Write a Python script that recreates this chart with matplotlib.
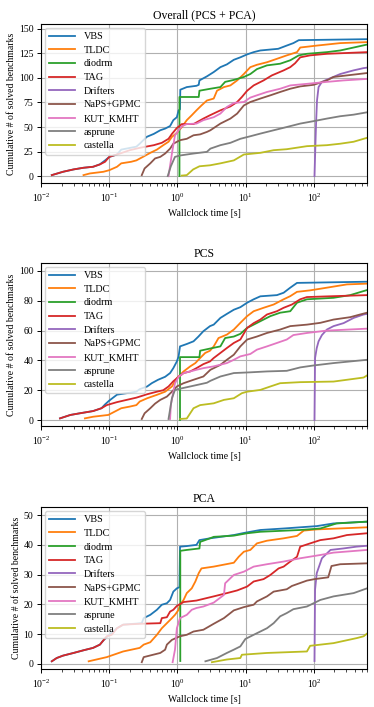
import matplotlib
matplotlib.use('Agg')
import matplotlib.pyplot as plt

plt.rcParams['font.family'] = ['Liberation Serif', 'DejaVu Serif']
plt.rcParams['mathtext.fontset'] = 'stix'
plt.rcParams['axes.linewidth'] = 0.8

solvers = ['VBS', 'TLDC', 'diodrm', 'TAG', 'Drifters', 'NaPS+GPMC', 'KUT_KMHT', 'asprune', 'castella']
colors = ['tab:blue', 'tab:orange', 'tab:green', 'tab:red', 'tab:purple',
          'tab:brown', 'tab:pink', 'tab:gray', 'tab:olive']

# ---- Overall (PCS + PCA): (time [s], cumulative # solved)
all_vbs = [(0.0144, 1), (0.021, 4.4), (0.03, 6.8), (0.042, 8.5), (0.058, 9.5), (0.073, 12), (0.087, 16),
           (0.1, 19.5), (0.13, 22), (0.15, 27), (0.25, 30), (0.28, 33), (0.355, 40), (0.45, 43), (0.56, 46.7),
           (0.66, 48.4), (0.78, 51), (0.87, 57), (0.98, 60), (1.04, 67), (1.09, 68), (1.1, 88), (1.37, 90.7),
           (1.9, 92), (2.05, 93), (2.1, 97.5), (2.7, 101.6), (3.4, 106), (4.26, 111), (5.3, 113.8), (6.7, 118.5),
           (8.35, 121), (10.5, 124), (13.1, 126.3), (16.4, 128), (30, 129.7), (40, 133), (50, 135.5),
           (60, 138.5), (600, 139.5)]
all_tldc = [(0.042, 1), (0.052, 2.7), (0.082, 4.4), (0.1, 6), (0.13, 9.5), (0.15, 13), (0.21, 14.6), (0.25, 16),
            (0.32, 20), (0.4, 23.7), (0.5, 27), (0.62, 31.5), (0.74, 35), (0.83, 40), (0.98, 44), (1.16, 50),
            (1.37, 57), (1.62, 62), (1.9, 67), (2.25, 72), (2.7, 77), (3.4, 79), (3.8, 87), (4.8, 90.7),
            (5.97, 92.4), (7.5, 97.5), (9.4, 104), (11.7, 111), (14.6, 113.4), (20.5, 116), (28.7, 119.5),
            (40, 123), (56.5, 126.3), (63, 131), (111, 133), (243, 135.5), (600, 136.5)]
all_diodrm = [(1.07, 0), (1.07, 80.6), (2.05, 80.6), (2.1, 87), (3.04, 89), (4.26, 90.7), (5.0, 96), (6.7, 98),
              (9.4, 101), (11.7, 104), (14.6, 109), (20.5, 112.8), (32, 114.5), (45, 118), (60, 123),
              (79, 124.6), (155, 126.3), (243, 128), (382, 131), (600, 134)]
all_tag = [(0.0144, 1), (0.021, 4.4), (0.03, 6.8), (0.042, 8.5), (0.058, 9.5), (0.073, 11.9), (0.087, 14.6),
           (0.1, 19.6), (0.144, 23), (0.2, 26.4), (0.28, 28.8), (0.45, 31.5), (0.59, 33.9), (0.74, 38),
           (0.83, 43), (0.98, 49), (1.16, 53), (1.72, 53), (2.4, 58.6), (3.0, 62), (4.26, 67), (5.97, 71),
           (7.5, 75.5), (8.8, 80.6), (10.5, 87), (13.1, 92.4), (18.3, 97.5), (24.2, 102.6), (36, 107.7),
           (45, 111), (53, 115), (63, 121), (88, 123), (155, 124.6), (600, 126.3)]
all_drifters = [(102, 0), (106, 40), (108, 57), (111, 77), (117, 90.7), (131, 96), (164, 99), (243, 104),
                (380, 107.7), (533, 110), (600, 110.5)]
all_naps = [(0.3, 1), (0.33, 7.8), (0.4, 13), (0.47, 18), (0.56, 19.6), (0.66, 23), (0.78, 28), (0.87, 33),
            (1.09, 36.6), (1.37, 38), (1.72, 41.6), (2.15, 42.5), (2.7, 45), (3.04, 46.7), (4.26, 53.5),
            (5.97, 58.6), (7.5, 63.7), (9.4, 72), (11.7, 75.5), (16.4, 79), (23, 82.3), (32, 85.7), (45, 89),
            (63, 91.4), (99, 93), (155, 97.5), (194, 101), (305, 102.6), (600, 105)]
all_kut = [(0.74, 0), (0.83, 23), (0.92, 41.6), (1.04, 46.7), (1.16, 50.8), (1.37, 53), (1.9, 53.5), (2.4, 57),
           (3.4, 60), (4.26, 63.7), (5.3, 70.4), (6.7, 74.5), (9.4, 75.5), (11.7, 80), (14.6, 82.3),
           (20.5, 85.7), (32, 89), (45, 92.4), (79, 94), (155, 96), (272, 97.5), (600, 99)]
all_asprune = [(0.72, 0), (0.8, 10), (0.92, 19.6), (1.09, 21), (1.72, 23), (2.7, 24.7), (3.04, 28), (4.26, 31.5),
               (5.97, 33.9), (8.35, 38), (11.7, 40.6), (16.4, 43.3), (25.7, 46.7), (40, 50), (63, 53.5),
               (99, 56), (155, 58.6), (243, 61), (382, 62.6), (600, 65)]
all_castella = [(1.15, 0.5), (1.37, 1), (1.7, 6.8), (2.1, 10), (3.0, 11), (4.26, 13), (6.7, 16), (9.4, 22),
                (16.4, 23.7), (25.7, 26.4), (40, 27.4), (79, 30.5), (155, 31.5), (243, 33), (382, 35),
                (535, 38), (600, 39)]

# ---- PCS
pcs_vbs = [(0.019, 1.1), (0.027, 3.4), (0.037, 4.5), (0.058, 6), (0.077, 7.9), (0.087, 10.5), (0.1, 13),
           (0.13, 17), (0.18, 18), (0.25, 19), (0.28, 20.7), (0.36, 22.5), (0.42, 24.7), (0.52, 27), (0.66, 29),
           (0.78, 31.5), (0.87, 34.8), (0.98, 39.3), (1.04, 42.7), (1.09, 49.4), (1.37, 51), (1.72, 52.8),
           (2.03, 56), (2.4, 59.6), (3.0, 63), (3.4, 64), (4.26, 68.5), (5.3, 71.2), (6.7, 74), (8.35, 75.7),
           (10.5, 78.7), (13.1, 81), (16.4, 83), (28.7, 83.8), (36, 85.4), (45, 88.8), (56.5, 92), (600, 92.8)]
pcs_tldc = [(0.044, 1.1), (0.058, 2.2), (0.097, 3.4), (0.12, 5.6), (0.15, 7.9), (0.2, 9), (0.25, 10),
            (0.28, 12.4), (0.36, 14.6), (0.5, 16.9), (0.66, 19), (0.83, 22.5), (0.98, 28), (1.23, 32.6),
            (1.54, 36), (1.83, 38.2), (2.15, 41.6), (2.55, 45), (3.0, 46.5), (3.4, 49.4), (4.0, 55), (5.3, 57.3),
            (6.7, 60.7), (8.35, 65.2), (10.5, 69.7), (13.1, 73), (18.3, 75.3), (25.7, 77.5), (36, 81),
            (45, 83.1), (56.5, 86), (88, 87), (155, 88.8), (305, 91), (600, 91.5)]
pcs_diodrm = [(1.09, 0), (1.09, 42.2), (2.1, 42.2), (2.15, 46.5), (3.04, 48), (4.26, 49.4), (5.0, 55), (6.7, 56),
              (8.35, 57.8), (10.5, 61.8), (13.1, 64), (16.4, 66.3), (23, 69.7), (32, 72), (45, 73),
              (56.5, 78.7), (79, 81), (194, 82), (340, 83.8), (600, 87.2)]
pcs_tag = [(0.019, 1.1), (0.027, 3.4), (0.037, 4.5), (0.058, 6), (0.077, 7.9), (0.092, 10), (0.13, 12),
           (0.18, 13.5), (0.25, 15), (0.36, 17.3), (0.5, 19), (0.62, 20), (0.74, 22.5), (0.87, 26), (1.04, 29),
           (1.23, 31.5), (1.54, 32.6), (1.9, 34.8), (2.4, 37.5), (3.0, 39.3), (3.4, 41.6), (4.26, 45),
           (5.3, 48.3), (6.7, 51.7), (8.35, 54), (10.5, 61.8), (13.1, 65), (16.4, 67.4), (20.5, 70.8),
           (28.7, 73), (36, 75.3), (47.6, 77.5), (63, 81), (79, 82.5), (194, 83.1), (600, 83.8)]
pcs_drifters = [(102, 0), (104, 41.6), (110, 48.3), (117, 52.8), (131, 57), (155, 60.7), (194, 63), (272, 65),
                (382, 68.5), (535, 70.8), (600, 71.2)]
pcs_naps = [(0.3, 0.7), (0.33, 4.5), (0.4, 7.9), (0.47, 11), (0.56, 13.5), (0.7, 15.7), (0.83, 19),
            (0.98, 22.5), (1.23, 24.7), (1.72, 27), (2.4, 29.2), (3.04, 33.7), (4.26, 37), (5.3, 40.4),
            (6.7, 43.8), (8.35, 49.4), (10.5, 54), (14.6, 56), (20.5, 58.4), (32, 60.7), (45, 63), (79, 64),
            (124, 65.2), (194, 67.4), (340, 69), (475, 70.8), (600, 72)]
pcs_kut = [(0.78, 0.7), (0.8, 10), (0.92, 24.7), (1.04, 29), (1.23, 31.5), (1.54, 32.6), (1.9, 33.7),
           (2.4, 34.8), (3.4, 36), (5.3, 38.2), (6.7, 40.4), (8.35, 42.7), (11.7, 44.3), (14.6, 47.2),
           (20.5, 49.4), (28.7, 51.7), (40, 54), (50, 57), (79, 58.4), (155, 60), (600, 61.3)]
pcs_asprune = [(0.74, 0.7), (0.83, 14.6), (0.92, 20.2), (1.09, 21), (1.72, 23), (2.7, 25), (3.04, 26.3),
               (4.26, 29.2), (6.7, 31.5), (11.7, 32), (20.5, 32.6), (40, 33), (63, 35.3), (99, 36.6),
               (194, 38.2), (340, 39.3), (600, 40.4)]
pcs_castella = [(1.1, 0.7), (1.37, 1), (1.72, 7.9), (2.15, 10), (3.4, 11.2), (4.8, 13.5), (6.7, 14.6),
                (8.8, 18), (10.5, 19), (16.4, 20.2), (23, 22.5), (32, 24.7), (63, 25.4), (194, 25.8),
                (305, 27), (535, 28.5), (600, 29.9)]

# ---- PCA
pca_vbs = [(0.0144, 0.9), (0.017, 2), (0.021, 2.8), (0.03, 3.7), (0.042, 4.6), (0.058, 5.4), (0.073, 6.5),
           (0.082, 7.9), (0.1, 9.8), (0.13, 12), (0.16, 13.2), (0.3, 13.7), (0.32, 15.4), (0.4, 16.5),
           (0.5, 18.2), (0.59, 19.9), (0.7, 20.4), (0.78, 21.5), (0.87, 24.3), (0.98, 25.4), (1.07, 25.8),
           (1.09, 39.4), (1.37, 39.6), (1.9, 40), (2.1, 41.6), (3.0, 42.2), (6.7, 43.3), (9.4, 44), (16.4, 45),
           (36, 45.5), (110, 46.3), (194, 47.2), (600, 47.8)]
pca_tldc = [(0.05, 0.9), (0.092, 2.3), (0.16, 4.2), (0.28, 5.4), (0.32, 6.5), (0.4, 7.3), (0.5, 9.8),
            (0.59, 12), (0.7, 13.7), (0.83, 15.4), (0.92, 16.5), (1.04, 18.2), (1.09, 19.9), (1.23, 21.5),
            (1.37, 23.8), (1.62, 25.4), (1.83, 27.7), (2.05, 30.5), (2.25, 32.1), (3.4, 32.7), (6.7, 34),
            (7.9, 36), (9.4, 37.7), (11.7, 38.3), (14.6, 40.5), (20.5, 41.4), (36, 42.2), (56.5, 43),
            (71, 44.8), (110, 45.2), (600, 45.9)]
pca_diodrm = [(1.1, 1), (1.1, 38), (1.37, 38.3), (2.1, 38.8), (2.15, 41), (3.0, 42.2), (3.4, 42.7),
              (6.7, 43.1), (10.5, 43.9), (16.4, 44.4), (63, 45), (124, 45.5), (215, 47.2), (600, 47.8)]
pca_tag = [(0.0144, 0.9), (0.017, 2), (0.021, 2.8), (0.03, 3.7), (0.042, 4.6), (0.058, 5.4), (0.073, 6.5),
           (0.082, 7.9), (0.092, 9.3), (0.109, 9.8), (0.13, 12), (0.16, 13.2), (0.28, 13.5), (0.56, 13.7),
           (0.59, 15.4), (0.7, 15.7), (0.78, 17.6), (0.87, 18.2), (0.98, 19.5), (1.23, 20.8), (1.9, 21.3),
           (3.4, 22.7), (5.3, 23.8), (7.5, 24.7), (10.5, 26), (13.1, 27.7), (18.3, 28.5), (23, 29.9),
           (30.4, 32.1), (36, 32.7), (45, 34.4), (56.5, 36), (63, 39.4), (88, 40.5), (124, 41.6), (194, 42.2),
           (305, 43.3), (600, 43.9)]
pca_drifters = [(102, 1), (104, 25), (110, 30.5), (131, 35.5), (175, 38.3), (270, 38.8), (420, 39.4),
                (600, 39.7)]
pca_naps = [(0.3, 0.6), (0.32, 2.3), (0.44, 3.1), (0.56, 3.7), (0.66, 4.8), (0.7, 6.5), (0.83, 8.1),
            (1.09, 9.3), (1.37, 9.8), (1.72, 10.9), (2.4, 11.5), (3.4, 13.5), (4.8, 15.4), (6.7, 18),
            (9.4, 19.1), (13.1, 19.9), (14.6, 21), (20.5, 22.7), (25.7, 24.3), (40, 25.1), (47.6, 26.2),
            (79, 28), (102, 28.5), (162, 29.1), (181, 32.9), (243, 33.5), (600, 33.8)]
pca_kut = [(0.85, 0.6), (0.92, 4.8), (0.98, 12), (1.09, 15.4), (1.37, 16.5), (1.62, 18.2), (1.9, 18.8),
           (2.4, 19.3), (3.4, 20.6), (4.8, 23.2), (5.0, 27.1), (6.7, 29.9), (9.4, 31), (13.1, 32.7),
           (20.5, 33.5), (36, 34.4), (63, 35.5), (124, 36.6), (194, 37.4), (600, 38.3)]
pca_asprune = [(2.57, 0.9), (3.8, 2), (5.3, 3.7), (6.7, 4.8), (8.35, 5.9), (9.9, 8.4), (13.1, 9.8),
               (16.4, 10.9), (20.5, 12), (25.7, 13.7), (32, 16), (40, 17.1), (50, 18.4), (79, 19.3),
               (99, 20.4), (124, 21.5), (194, 22.7), (382, 23.8), (600, 25.4)]
pca_castella = [(3.2, 0.6), (5.3, 1.5), (8.35, 2), (8.8, 3.1), (20.5, 3.7), (79, 4.2), (88, 6.1), (194, 7),
                (426, 8.7), (535, 9.3), (600, 10.2)]

panels = [
    ('Overall (PCS + PCA)',
     [all_vbs, all_tldc, all_diodrm, all_tag, all_drifters, all_naps, all_kut, all_asprune, all_castella],
     (-7, 155), 25, [0.1096, 0.7412, 0.8717, 0.2249]),
    ('PCS',
     [pcs_vbs, pcs_tldc, pcs_diodrm, pcs_tag, pcs_drifters, pcs_naps, pcs_kut, pcs_asprune, pcs_castella],
     (-4, 105.4), 20, [0.1096, 0.3975, 0.8717, 0.2306]),
    ('PCA',
     [pca_vbs, pca_tldc, pca_diodrm, pca_tag, pca_drifters, pca_naps, pca_kut, pca_asprune, pca_castella],
     (-1.7, 52.7), 10, [0.1096, 0.0537, 0.8717, 0.2291]),
]

fig = plt.figure(figsize=(3.74, 7.07), dpi=100)

for title, curves, ylim, ystep, rect in panels:
    ax = fig.add_axes(rect)
    for name, c, pts in zip(solvers, colors, curves):
        t = [p[0] for p in pts]
        n = [p[1] for p in pts]
        ax.plot(t, n, color=c, lw=1.3, label=name)
    ax.set_xscale('log')
    ax.set_xlim(0.01, 600)
    ax.set_ylim(*ylim)
    ax.set_yticks(range(0, int(ylim[1]) + 1, ystep))
    ax.grid(True, which='major', color='#b0b0b0', lw=0.8)
    ax.set_axisbelow(True)
    ax.tick_params(labelsize=7, length=3, width=0.7, pad=2.5)
    ax.tick_params(axis='x', pad=3.5)
    ax.tick_params(which='minor', length=1.8, width=0.5)
    ax.set_title(title, fontsize=8.5, pad=4)
    ax.set_xlabel('Wallclock time [s]', fontsize=7, labelpad=3)
    ax.set_ylabel('Cumulative # of solved benchmarks', fontsize=7, labelpad=2)
    ax.legend(loc='upper left', fontsize=7.3, framealpha=0.8, handlelength=2.6,
              borderaxespad=0.4, labelspacing=0.45)

fig.savefig('out.png', dpi=100)
